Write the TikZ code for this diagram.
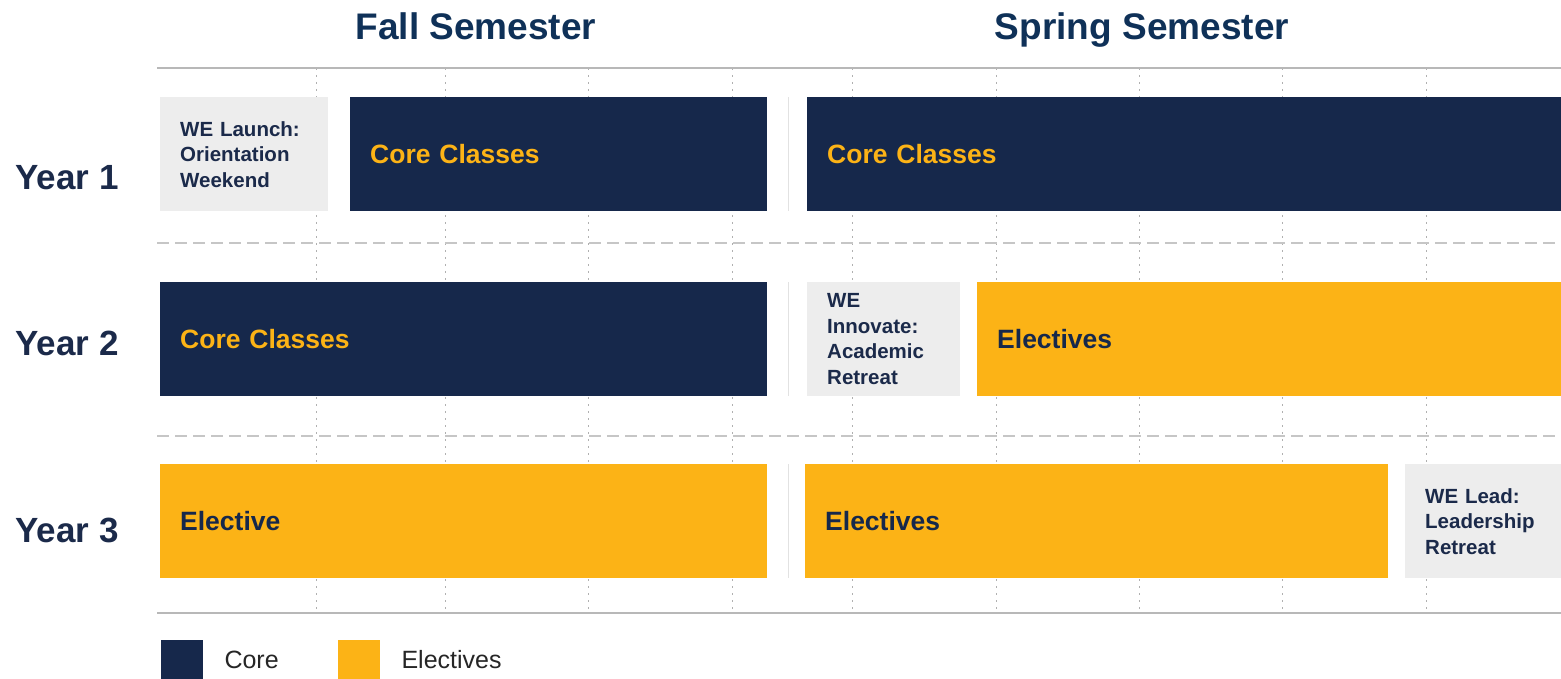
\documentclass[tikz,border=0pt]{standalone}
\usepackage{fontspec}
\setmainfont{Liberation Sans}
\definecolor{navy}{HTML}{16284B}
\definecolor{gold}{HTML}{FCB316}
\definecolor{paper}{HTML}{EDEDED}
\definecolor{titleblue}{HTML}{0F3158}
\definecolor{ink}{HTML}{1B2A4A}
\definecolor{rulegray}{HTML}{B8B8B8}
\definecolor{dashgray}{HTML}{C6C6C6}
\definecolor{dotgray}{HTML}{B0B0B0}
\definecolor{sepgray}{HTML}{E2E2E2}
\begin{document}
\begin{tikzpicture}[x=1pt,y=-1pt,
  bar/.style={rectangle, anchor=north west, inner xsep=20pt, inner ysep=0pt,
    minimum height=114pt, align=left},
  corebar/.style={bar, fill=navy, text=gold, font=\bfseries\fontsize{26.5}{30}\selectfont},
  electbar/.style={bar, fill=gold, text=navy, font=\bfseries\fontsize{26.5}{30}\selectfont},
  eventbar/.style={bar, fill=paper, text=ink, font=\bfseries\fontsize{20.5}{25.5}\selectfont},
  semtitle/.style={anchor=base, text=titleblue, font=\bfseries\fontsize{37}{44}\selectfont},
  yearlabel/.style={anchor=west, text=ink, font=\bfseries\fontsize{35}{40}\selectfont},
  legendtext/.style={anchor=west, text=black!85, font=\fontsize{25}{30}\selectfont},
  solidrule/.style={draw=rulegray, line width=1.5pt},
  dashrule/.style={draw=dashgray, line width=2pt, dash pattern=on 12pt off 6pt},
  dotrule/.style={draw=dotgray, line width=1pt, dash pattern=on 2pt off 5pt},
  semsep/.style={draw=sepgray, line width=1pt}]
\useasboundingbox (0,0) rectangle (1561,679);

% semester headings
\node[semtitle] (fall) at (476,40) {Fall Semester};
\node[semtitle] (spring) at (1142,40) {Spring Semester};

% week grid
\foreach \gx in {316,445,588,732,852,996,1139,1282,1426}
  \draw[dotrule] (\gx,68) -- (\gx,613);
\draw[solidrule] (157,68) -- (1561,68);
\draw[dashrule] (157,243) -- (1561,243);
\draw[dashrule] (157,436) -- (1561,436);
\draw[solidrule] (157,613) -- (1561,613);

% semester separators
\foreach \ry in {97,282,464}
  \draw[semsep] (788,\ry) -- (788,\ry+114);

% year labels
\node[yearlabel] (y1) at (12,178) {Year 1};
\node[yearlabel] (y2) at (12,343) {Year 2};
\node[yearlabel] (y3) at (12,530) {Year 3};

% year 1
\node[eventbar, minimum width=168pt, text width=128pt] (launch) at (160,97)
  {WE Launch:\\Orientation\\Weekend};
\node[corebar, minimum width=417pt, text width=377pt] (core1f) at (350,97) {Core Classes};
\node[corebar, minimum width=754pt, text width=714pt] (core1s) at (807,97) {Core Classes};

% year 2
\node[corebar, minimum width=607pt, text width=567pt] (core2f) at (160,282) {Core Classes};
\node[eventbar, minimum width=153pt, text width=113pt] (innovate) at (807,282)
  {WE\\Innovate:\\Academic\\Retreat};
\node[electbar, minimum width=584pt, text width=544pt] (elec2s) at (977,282) {Electives};

% year 3
\node[electbar, minimum width=607pt, text width=567pt] (elec3f) at (160,464) {Elective};
\node[electbar, minimum width=583pt, text width=543pt] (elec3s) at (805,464) {Electives};
\node[eventbar, minimum width=156pt, text width=116pt] (lead) at (1405,464)
  {WE Lead:\\Leadership\\Retreat};

% legend
\node[rectangle, fill=navy, anchor=north west, minimum width=42pt, minimum height=45pt, inner sep=0pt] (legcore) at (161,640) {};
\node[legendtext] (legcoretext) at (221,660) {Core};
\node[rectangle, fill=gold, anchor=north west, minimum width=42pt, minimum height=45pt, inner sep=0pt] (legelec) at (338,640) {};
\node[legendtext] (legelectext) at (398,660) {Electives};
\end{tikzpicture}
\end{document}
